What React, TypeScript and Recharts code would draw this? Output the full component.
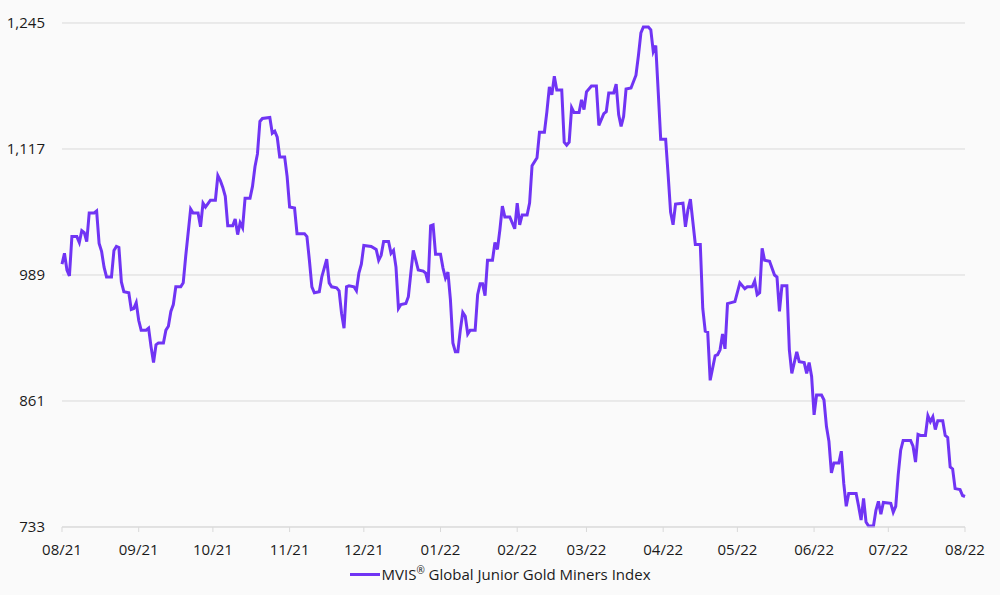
import { LineChart, Line, XAxis, YAxis, CartesianGrid } from 'recharts';

// day offsets from 2021-08-01 and index closing levels
const days = [
  0, 1, 2, 3, 4, 6, 7, 8, 9, 10,
  11, 13, 14, 15, 16, 17, 18, 20, 21, 22,
  23, 24, 25, 27, 28, 29, 30, 31, 32, 34,
  35, 36, 37, 38, 39, 41, 42, 43, 44, 45,
  46, 48, 49, 50, 52, 53, 55, 56, 57, 58,
  60, 62, 63, 64, 65, 66, 67, 69, 70, 71,
  72, 73, 74, 76, 77, 78, 79, 80, 81, 84,
  85, 86, 87, 88, 90, 91, 92, 94, 95, 98,
  99, 100, 101, 102, 104, 105, 107, 108, 109, 111,
  112, 113, 114, 115, 116, 118, 119, 120, 121, 122,
  125, 127, 128, 129, 130, 132, 133, 134, 135, 136,
  137, 139, 140, 141, 142, 143, 144, 146, 147, 148,
  149, 150, 151, 153, 154, 155, 156, 157, 158, 159,
  160, 161, 162, 163, 164, 165, 167, 168, 169, 170,
  171, 172, 174, 175, 176, 177, 178, 179, 181, 183,
  184, 185, 186, 188, 189, 190, 192, 193, 195, 196,
  197, 198, 199, 200, 202, 203, 204, 205, 206, 207,
  209, 210, 211, 212, 214, 216, 217, 219, 220, 221,
  223, 224, 225, 226, 227, 228, 230, 232, 233, 234,
  235, 237, 238, 239, 240, 241, 242, 244, 245, 246,
  247, 248, 251, 252, 253, 254, 255, 256, 258, 259,
  260, 261, 262, 264, 265, 266, 267, 268, 269, 272,
  274, 276, 277, 279, 280, 281, 282, 283, 284, 286,
  288, 289, 290, 291, 293, 294, 295, 297, 298, 300,
  301, 302, 303, 304, 305, 307, 308, 309, 310, 311,
  312, 314, 315, 316, 317, 318, 321, 322, 323, 324,
  325, 326, 328, 329, 330, 331, 332, 335, 336, 337,
  338, 339, 340, 343, 344, 345, 346, 347, 349, 350,
  351, 352, 353, 354, 356, 357, 358, 359, 360, 361,
  363, 364, 365,
];

const indexValues = [
  1000, 1011, 994, 988, 1028, 1028, 1022, 1034, 1032, 1023,
  1052, 1052, 1054, 1021, 1013, 997, 987, 987, 1014, 1018,
  1017, 982, 972, 971, 954, 955, 961, 943, 933, 933,
  935, 916, 900, 918, 920, 920, 933, 937, 952, 959,
  977, 977, 981, 1008, 1056, 1052, 1052, 1038, 1062, 1058,
  1065, 1065, 1090, 1085, 1078, 1069, 1039, 1039, 1046, 1030,
  1042, 1037, 1067, 1067, 1079, 1099, 1112, 1145, 1148, 1149,
  1133, 1135, 1129, 1109, 1109, 1089, 1058, 1057, 1031, 1031,
  1028, 1004, 977, 971, 972, 987, 1005, 981, 977, 976,
  973, 950, 935, 977, 978, 977, 973, 991, 1000, 1019,
  1018, 1015, 1004, 1009, 1023, 1023, 1011, 1014, 997, 955,
  959, 960, 967, 991, 1014, 1004, 994, 993, 991, 981,
  1039, 1040, 1010, 1010, 996, 986, 992, 964, 920, 911,
  911, 933, 951, 947, 929, 933, 933, 969, 980, 980,
  968, 1004, 1004, 1022, 1015, 1035, 1059, 1048, 1048, 1036,
  1062, 1040, 1050, 1050, 1062, 1100, 1108, 1134, 1134, 1155,
  1180, 1172, 1191, 1177, 1177, 1124, 1121, 1124, 1159, 1154,
  1154, 1167, 1157, 1175, 1181, 1181, 1141, 1153, 1155, 1174,
  1174, 1183, 1152, 1140, 1150, 1178, 1179, 1192, 1212, 1235,
  1241, 1241, 1238, 1216, 1222, 1175, 1127, 1127, 1091, 1053,
  1040, 1061, 1062, 1038, 1055, 1066, 1043, 1020, 1020, 955,
  932, 931, 882, 907, 908, 913, 929, 914, 960, 962,
  981, 975, 977, 977, 983, 969, 971, 1016, 1004, 1003,
  989, 987, 952, 978, 978, 913, 889, 911, 901, 900,
  889, 900, 886, 847, 867, 867, 862, 835, 820, 788,
  798, 798, 810, 777, 754, 767, 767, 754, 740, 762,
  738, 734, 734, 750, 759, 746, 758, 757, 748, 754,
  786, 811, 821, 821, 815, 799, 827, 826, 826, 846,
  840, 845, 832, 841, 841, 826, 824, 794, 792, 772,
  771, 765, 764,
];

const monthTicks = [0, 31, 61, 92, 122, 153, 184, 212, 243, 273, 304, 334, 365];
const monthLabels = ['08/21', '09/21', '10/21', '11/21', '12/21', '01/22', '02/22', '03/22', '04/22', '05/22', '06/22', '07/22', '08/22'];
const yTicks = [733, 861, 989, 1117, 1245];

const data = days.map((d, i) => ({ day: d, value: indexValues[i] }));

const FONT = '"Open Sans", sans-serif';
const PURPLE = '#7034f4';
const TEXT = '#1a1a1a';

export default function App() {
  return (
    <div style={{ position: 'absolute', left: 0, top: 0, width: 1000, height: 595, background: '#fafafa', fontFamily: FONT }}>
      <LineChart width={1000} height={595} data={data} margin={{ top: 23, right: 35, left: 0, bottom: 38 }}>
        <CartesianGrid vertical={false} stroke="#d9d9d9" />
        <XAxis
          dataKey="day"
          type="number"
          domain={[0, 365]}
          ticks={monthTicks}
          tickFormatter={(v: number) => monthLabels[monthTicks.indexOf(v)]}
          height={30}
          stroke="#d9d9d9"
          tickSize={5}
          tickMargin={12}
          tick={{ fontSize: 15, fill: TEXT, fontFamily: FONT }}
        />
        <YAxis
          domain={[733, 1245]}
          ticks={yTicks}
          tickFormatter={(v: number) => v.toLocaleString('en-US')}
          width={62}
          axisLine={false}
          tickLine={false}
          tickSize={0}
          tickMargin={17}
          tick={{ fontSize: 15, fill: TEXT, fontFamily: FONT }}
        />
        <Line
          type="linear"
          dataKey="value"
          name="MVIS® Global Junior Gold Miners Index"
          stroke={PURPLE}
          strokeWidth={3}
          dot={false}
          isAnimationActive={false}
        />
      </LineChart>
      <div style={{ position: 'absolute', top: 564, left: 0, width: 1000, display: 'flex', justifyContent: 'center', alignItems: 'center', fontSize: 15, color: TEXT }}>
        <span style={{ display: 'inline-block', width: 30, height: 3, background: PURPLE, marginRight: 2 }} />
        <span>
          MVIS<sup style={{ fontSize: 10, lineHeight: 0 }}>®</sup> Global Junior Gold Miners Index
        </span>
      </div>
    </div>
  );
}
